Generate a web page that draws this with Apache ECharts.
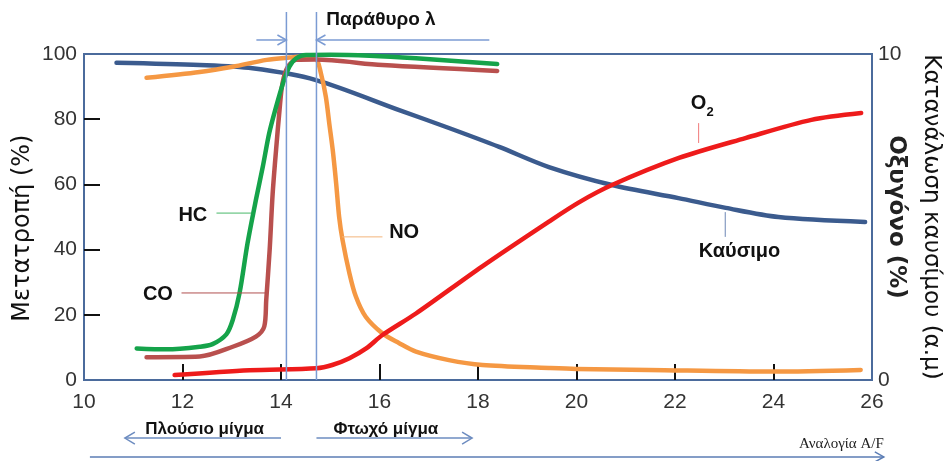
<!DOCTYPE html>
<html>
<head>
<meta charset="utf-8">
<script src="https://cdn.jsdelivr.net/npm/echarts@6/dist/echarts.min.js"></script>
<style>
  html, body { margin: 0; padding: 0; background: #ffffff; }
  #chart { width: 950px; height: 461px; }
</style>
</head>
<body>
<div id="chart"></div>
<script>
// Conversion efficiency (%) of HC, CO, NO versus air/fuel ratio
const afHC = [11.07, 11.68, 12.35, 12.61, 12.89, 13.02, 13.16, 13.32, 13.49, 13.63, 13.76, 13.90, 14.04, 14.17, 14.31, 14.51, 15.00, 15.80, 16.74, 18.39];
const hc   = [9.7, 9.4, 10.2, 11.0, 14.0, 18.4, 26.8, 41.9, 55.2, 65.4, 75.7, 83.8, 91.0, 96.1, 98.7, 99.7, 99.8, 99.5, 98.7, 96.9];

const afCO = [11.27, 12.35, 13.02, 13.49, 13.66, 13.70, 13.77, 13.83, 13.90, 13.97, 14.03, 14.14, 14.31, 14.70, 16.06, 18.39];
const co   = [7.0, 7.2, 10.2, 13.3, 16.4, 24.5, 40.0, 57.0, 70.6, 82.8, 91.0, 96.1, 98.2, 98.3, 96.6, 94.8];

const afNO = [11.27, 12.35, 13.02, 13.71, 14.17, 14.47, 14.70, 14.81, 14.91, 14.98, 15.05, 15.12, 15.18, 15.25, 15.39, 15.52, 15.72, 16.06, 16.40, 16.74, 17.41, 18.09, 19.44, 20.00, 21.47, 24.00, 25.77];
const no   = [92.7, 94.5, 96.1, 98.2, 98.9, 99.2, 98.8, 94.1, 86.9, 78.7, 70.6, 60.3, 50.1, 42.9, 32.7, 25.6, 19.4, 14.3, 11.3, 8.7, 6.1, 4.6, 3.7, 3.4, 3.1, 2.6, 3.1];

// Fuel consumption (a.u.) and oxygen (%) on the 0-10 right-hand scale
const afFuel = [10.66, 12.35, 13.42, 14.71, 16.40, 17.41, 18.43, 19.44, 20.72, 22.07, 23.03, 24.10, 25.86];
const fuel   = [9.73, 9.66, 9.56, 9.20, 8.28, 7.73, 7.15, 6.53, 5.98, 5.58, 5.28, 5.00, 4.85];

const afO2 = [11.84, 13.36, 14.72, 15.04, 15.39, 15.73, 16.06, 16.74, 18.08, 19.44, 20.05, 20.72, 22.08, 23.43, 24.77, 25.78];
const o2   = [0.15, 0.30, 0.36, 0.46, 0.67, 0.97, 1.38, 2.04, 3.48, 4.86, 5.45, 5.98, 6.81, 7.42, 7.98, 8.19];

// Tick marks drawn inside the frame
const innerTicksX = [12, 14, 16, 18, 20, 22, 24];
const innerTicksY = [20, 40, 60, 80];

// Boundaries of the lambda window
const lambdaWindow = [14.11, 14.72];

const FONT = '"Liberation Sans", Arial, sans-serif';
const WIDE = '"DejaVu Sans", Verdana, sans-serif';
const COLORS = { hc: '#15a34a', co: '#b9504e', no: '#f59843', fuel: '#3b5b8e', o2: '#ee1b1b' };

const chart = echarts.init(document.getElementById('chart'), null, { renderer: 'canvas' });

const pair = (xs, ys) => xs.map((x, i) => [x, ys[i]]);
const curve = (name, xs, ys, color, yAxisIndex) => ({
  name, type: 'line', yAxisIndex, data: pair(xs, ys),
  smooth: 0.3, symbol: 'none', silent: true,
  lineStyle: { color, width: 4.5, cap: 'round', join: 'round' }
});

chart.setOption({
  animation: false,
  grid: { left: 84, right: 77, top: 54, bottom: 81, show: true, borderColor: '#4b6b9c', borderWidth: 2, backgroundColor: 'transparent' },
  xAxis: {
    type: 'value', min: 10, max: 26, interval: 2,
    axisLine: { show: false }, splitLine: { show: false },
    axisTick: { show: true, inside: true, length: 16, customValues: innerTicksX, lineStyle: { color: '#111', width: 2 } },
    axisLabel: { fontFamily: FONT, fontSize: 21, color: '#333', margin: 12 }
  },
  yAxis: [
    {
      type: 'value', min: 0, max: 100, interval: 20, position: 'left',
      axisLine: { show: false }, splitLine: { show: false },
      axisTick: { show: true, inside: true, length: 16, customValues: innerTicksY, lineStyle: { color: '#111', width: 2 } },
      axisLabel: { fontFamily: FONT, fontSize: 21, color: '#333', margin: 7 }
    },
    {
      type: 'value', min: 0, max: 10, interval: 10, position: 'right',
      name: 'Κατανάλωση καυσίμου (α.μ)', nameLocation: 'middle', nameRotate: -90, nameGap: 47,
      nameTextStyle: { fontFamily: WIDE, fontSize: 23, color: '#111' },
      axisLine: { show: false }, splitLine: { show: false }, axisTick: { show: false },
      axisLabel: { fontFamily: FONT, fontSize: 21, color: '#333', margin: 6 }
    },
    {
      type: 'value', min: 0, max: 10, interval: 10, position: 'right',
      name: 'Οξυγόνο (%)', nameLocation: 'middle', nameRotate: -90, nameGap: 12,
      nameTextStyle: { fontFamily: WIDE, fontSize: 23, fontWeight: 600, color: '#222' },
      axisLine: { show: false }, splitLine: { show: false }, axisTick: { show: false }, axisLabel: { show: false }
    }
  ],
  series: [
    curve('Καύσιμο', afFuel, fuel, COLORS.fuel, 1),
    curve('NO', afNO, no, COLORS.no, 0),
    curve('O2', afO2, o2, COLORS.o2, 1),
    curve('CO', afCO, co, COLORS.co, 0),
    curve('HC', afHC, hc, COLORS.hc, 0)
  ]
});

// Annotations placed in data coordinates through the chart's own axes
const P = (x, y) => chart.convertToPixel({ xAxisIndex: 0, yAxisIndex: 0 }, [x, y]);
const els = [];
function seg(a, b, color, width) {
  els.push({ type: 'polyline', silent: true, z: 20, shape: { points: [P(a[0], a[1]), P(b[0], b[1])] },
    style: { stroke: color, lineWidth: width, fill: null } });
}
function head(at, dir, color, width, len, half) {
  const t = P(at[0], at[1]);
  els.push({ type: 'polyline', silent: true, z: 20,
    shape: { points: [[t[0] - dir * len, t[1] - half], t, [t[0] - dir * len, t[1] + half]] },
    style: { stroke: color, lineWidth: width, fill: null } });
}
function txt(at, text, font, color, align, rotation) {
  const p = P(at[0], at[1]);
  els.push({ type: 'text', silent: true, z: 21, x: p[0], y: p[1], rotation: rotation || 0,
    style: { text, font, fill: color, align: align || 'center', verticalAlign: 'middle' } });
}

// left axis title
txt([8.76, 46.6], 'Μετατροπή (%)', '24px ' + WIDE, '#111', 'center', Math.PI / 2);

const WIN = '#7b9bd3';
// lambda window boundaries and its arrows
lambdaWindow.forEach(x => seg([x, 0], [x, 112.9], WIN, 1.5));
seg([13.5, 104.3], [lambdaWindow[0], 104.3], WIN, 1.5);
head([lambdaWindow[0], 104.3], 1, WIN, 1.5, 9, 5);
seg([lambdaWindow[1], 104.3], [18.23, 104.3], WIN, 1.5);
head([lambdaWindow[1], 104.3], -1, WIN, 1.5, 9, 5);
txt([14.92, 110.4], 'Παράθυρο λ', 'bold 19px ' + FONT, '#111', 'left');

// rich / lean mixture arrows under the axis
txt([12.45, -15.0], 'Πλούσιο μίγμα', 'bold 17px ' + FONT, '#111');
txt([16.13, -15.0], 'Φτωχό μίγμα', 'bold 17px ' + FONT, '#111');
seg([14.0, -17.8], [10.83, -17.8], '#6d8cc0', 1.5);
head([10.83, -17.8], -1, '#6d8cc0', 1.5, 10, 6);
seg([14.72, -17.8], [17.88, -17.8], '#6d8cc0', 1.5);
head([17.88, -17.8], 1, '#6d8cc0', 1.5, 10, 6);
seg([10.12, -23.6], [26.24, -23.6], '#5b7db5', 1.5);
head([26.24, -23.6], 1, '#5b7db5', 1.5, 9, 5);
txt([26.24, -19.6], 'Αναλογία A/F', '15px "Liberation Serif", "Times New Roman", serif', '#222', 'right');

// curve labels with leader lines
txt([12.21, 50.6], 'HC', 'bold 20px ' + FONT, '#111');
seg([12.69, 51.2], [13.40, 51.2], '#49b86a', 1);
txt([11.50, 26.1], 'CO', 'bold 20px ' + FONT, '#111');
seg([11.98, 26.7], [13.70, 26.7], '#b05050', 1);
txt([16.50, 45.4], 'NO', 'bold 20px ' + FONT, '#111');
seg([15.24, 43.9], [16.06, 43.9], '#f3b47a', 1);
txt([22.48, 84.7], 'O', 'bold 20px ' + FONT, '#111');
txt([22.64, 82.2], '2', 'bold 13px ' + FONT, '#111', 'left');
seg([22.48, 78.8], [22.48, 72.7], '#f07a7a', 1);
txt([23.31, 39.3], 'Καύσιμο', 'bold 20px ' + FONT, '#111');
seg([23.02, 51.5], [23.02, 43.9], '#6d87b5', 1);

chart.setOption({ graphic: { elements: els } });
</script>
</body>
</html>
